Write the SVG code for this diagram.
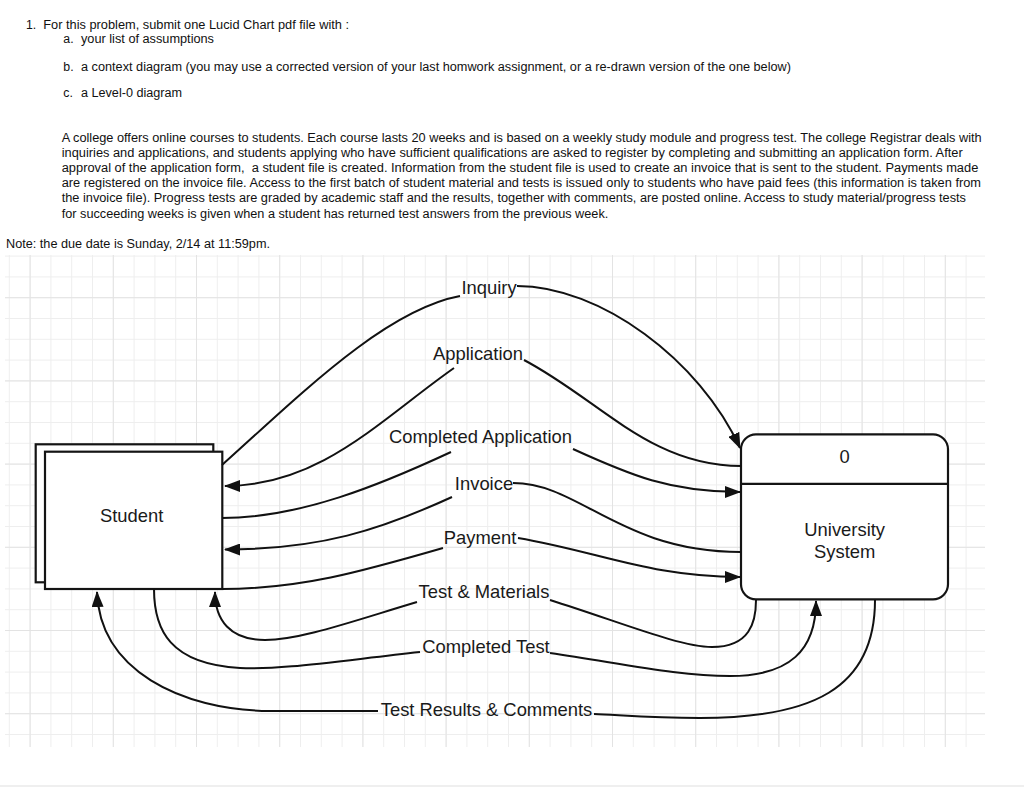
<svg xmlns="http://www.w3.org/2000/svg" width="1024" height="787" viewBox="0 0 1024 787">
<style>
  .hd { font-family: "Liberation Sans", Arial, Helvetica, sans-serif; font-size: 12.3px; fill: #111111; }
  .lbl { font-family: "Liberation Sans", Arial, Helvetica, sans-serif; font-size: 18.4px; fill: #1a1a1a; text-anchor: middle; }
  .box { fill: #ffffff; stroke: #141414; stroke-width: 2.2; }
  .flow { fill: none; stroke: #111111; stroke-width: 2; }
  .arr { marker-end: url(#ah); }
</style>
<defs>
  <marker id="ah" viewBox="0 0 16 12" refX="15" refY="6" markerWidth="16" markerHeight="12" markerUnits="userSpaceOnUse" orient="auto">
    <path d="M0 0 L16 6 L0 12 z" fill="#111111"/>
  </marker>
  <pattern id="gMinor" patternUnits="userSpaceOnUse" x="8.8" y="255.6" width="20.8" height="20.8">
    <path d="M0.5 0 V20.8 M0 0.5 H20.8" stroke="#eeeeee" stroke-width="1" fill="none"/>
  </pattern>
  <pattern id="gMajor" patternUnits="userSpaceOnUse" x="29.6" y="297.2" width="83.2" height="83.2">
    <path d="M0.5 0 V83.2 M0 0.5 H83.2" stroke="#e3e3e3" stroke-width="1" fill="none"/>
  </pattern>
</defs>
<rect x="0" y="0" width="1024" height="787" fill="#ffffff"/>

<!-- header text -->
<g id="header">
  <text class="hd" x="26" y="28.5">1.</text>
  <text class="hd" x="43.3" y="28.5" textLength="305.7" lengthAdjust="spacingAndGlyphs">For this problem, submit one Lucid Chart pdf file with :</text>
  <text class="hd" x="63.3" y="43">a.</text>
  <text class="hd" x="81" y="43" textLength="133" lengthAdjust="spacingAndGlyphs">your list of assumptions</text>
  <text class="hd" x="63.3" y="70.5">b.</text>
  <text class="hd" x="81" y="70.5" textLength="710" lengthAdjust="spacingAndGlyphs">a context diagram (you may use a corrected version of your last homwork assignment, or a re-drawn version of the one below)</text>
  <text class="hd" x="63.3" y="97">c.</text>
  <text class="hd" x="81" y="97" textLength="101" lengthAdjust="spacingAndGlyphs">a Level-0 diagram</text>

  <text class="hd" x="61.7" y="141.5" textLength="920" lengthAdjust="spacingAndGlyphs">A college offers online courses to students. Each course lasts 20 weeks and is based on a weekly study module and progress test. The college Registrar deals with</text>
  <text class="hd" x="61.7" y="156.7" textLength="901" lengthAdjust="spacingAndGlyphs">inquiries and applications, and students applying who have sufficient qualifications are asked to register by completing and submitting an application form. After</text>
  <text class="hd" x="61.7" y="171.9" textLength="916.6" lengthAdjust="spacingAndGlyphs">approval of the application form,&#160; a student file is created. Information from the student file is used to create an invoice that is sent to the student. Payments made</text>
  <text class="hd" x="61.7" y="187.1" textLength="919.3" lengthAdjust="spacingAndGlyphs">are registered on the invoice file. Access to the first batch of student material and tests is issued only to students who have paid fees (this information is taken from</text>
  <text class="hd" x="61.7" y="202.3" textLength="904.3" lengthAdjust="spacingAndGlyphs">the invoice file). Progress tests are graded by academic staff and the results, together with comments, are posted online. Access to study material/progress tests</text>
  <text class="hd" x="61.7" y="217.5" textLength="546.6" lengthAdjust="spacingAndGlyphs">for succeeding weeks is given when a student has returned test answers from the previous week.</text>

  <text class="hd" x="6" y="248.3" textLength="264" lengthAdjust="spacingAndGlyphs">Note: the due date is Sunday, 2/14 at 11:59pm.</text>
</g>

<!-- grid -->
<g id="grid">
  <rect x="5" y="255" width="980" height="492" fill="url(#gMinor)"/>
  <rect x="5" y="255" width="980" height="492" fill="url(#gMajor)"/>
</g>
<rect x="0" y="785" width="1024" height="2" fill="#efefef"/>

<!-- nodes -->
<g id="student">
  <rect class="box" x="35.7" y="444.3" width="177.6" height="138"/>
  <rect class="box" x="45" y="451.7" width="177.3" height="137.3"/>
  <text class="lbl" x="131.7" y="521.5">Student</text>
</g>

<g id="university-system">
  <rect class="box" x="741" y="434.3" width="207" height="165" rx="15" ry="15"/>
  <line x1="741" y1="483.8" x2="948" y2="483.8" stroke="#141414" stroke-width="2.2"/>
  <text class="lbl" x="844.7" y="463">0</text>
  <text class="lbl" x="844.7" y="535.7">University</text>
  <text class="lbl" x="844.7" y="557.7">System</text>
</g>

<!-- connectors -->
<g id="connectors">
  <g id="flow-inquiry">
    <path class="flow arr" d="M222,465 C300,395 385,310 460,296 M517,286 C600,286 700,360 740,448"/>
    <text class="lbl" x="489" y="293.5">Inquiry</text>
  </g>
  <g id="flow-application">
    <path class="flow arr" d="M741,466 C650,466 600,400 524,360 M454,368 C380,420 320,486 225,486"/>
    <text class="lbl" x="478" y="360">Application</text>
  </g>
  <g id="flow-completed-application">
    <path class="flow arr" d="M222,518 C300,518 380,485 451,452 M573,449 C630,475 670,492 740,492"/>
    <text class="lbl" x="480.5" y="443.3">Completed Application</text>
  </g>
  <g id="flow-invoice">
    <path class="flow arr" d="M741,552 C620,552 580,483 513,483 M452,497 C380,530 320,549.5 225,549.5"/>
    <text class="lbl" x="484" y="490">Invoice</text>
  </g>
  <g id="flow-payment">
    <path class="flow arr" d="M222,589 C300,589 360,572 443,548 M518,538 C600,552 650,577 740,577"/>
    <text class="lbl" x="480" y="543.5">Payment</text>
  </g>
  <g id="flow-test-materials">
    <path class="flow arr" d="M756,600 C756,622 750,647 712,647 C680,647 620,622 550,600 M417,602 C350,622 300,640 265,640 C230,640 215,620 215,592"/>
    <text class="lbl" x="484" y="598">Test &amp; Materials</text>
  </g>
  <g id="flow-completed-test">
    <path class="flow arr" d="M154,589 C154,630 170,664 240,668 C280,670 330,662 420,652 M550,653 C630,665 680,676 730,676 C790,676 816,650 816,601"/>
    <text class="lbl" x="486" y="653">Completed Test</text>
  </g>
  <g id="flow-test-results">
    <path class="flow arr" d="M875,600 C875,690 810,718 700,718 C650,718 620,715 594,714 M378,711 L270,711 C180,710 100,670 97,592"/>
    <text class="lbl" x="486.5" y="715.5">Test Results &amp; Comments</text>
  </g>
</g>
</svg>
